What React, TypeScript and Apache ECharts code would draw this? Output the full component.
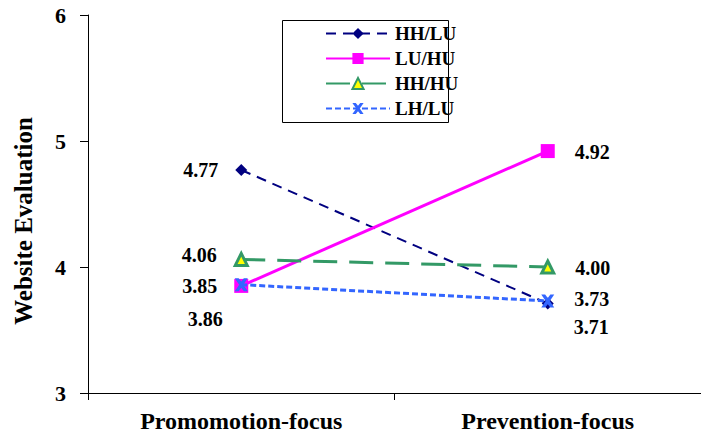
import React, { useEffect, useRef } from "react";
import * as echarts from "echarts";

const categories = ["Promomotion-focus", "Prevention-focus"];
const seriesNames = ["HH/LU", "LU/HU", "HH/HU", "LH/LU"];
const hhLu = [4.77, 3.71];
const luHu = [3.85, 4.92];
const hhHu = [4.06, 4.0];
const lhLu = [3.86, 3.73];
const yTicks = [3, 4, 5, 6];

const serif = '"Times New Roman", "Liberation Serif", "DejaVu Serif", serif';
const crossSymbol =
  "path://M0,0 L3,0 L5,2.6 L7,0 L10,0 L6.6,5 L10,10 L7,10 L5,7.4 L3,10 L0,10 L3.4,5 Z";

// per-point label placement: [position, offsetX, offsetY]
type Place = [string, number, number];
const labelPlaces: Place[][] = [
  [["left", 0, 0], ["right", 0, 23]],
  [["left", 0, 0], ["right", 0, 1]],
  [["left", 0, -4], ["right", 0, 1]],
  [["left", 5, 34], ["right", 0, -2]],
];

function withLabels(values: number[], idx: number) {
  return values.map((v, i) => {
    const [position, ox, oy] = labelPlaces[idx][i];
    return {
      value: v,
      label: {
        show: true,
        position,
        distance: position === "left" ? 17 : 20,
        offset: [ox, oy],
        formatter: (p: any) => Number(p.value).toFixed(2),
        fontFamily: serif,
        fontWeight: "bold",
        fontSize: 20,
        color: "#000",
      },
    };
  });
}

export default function App() {
  const ref = useRef<HTMLDivElement>(null);
  useEffect(() => {
    document.body.style.margin = "0";
    const chart = echarts.init(ref.current!, null, { renderer: "svg" });
    chart.setOption({
      animation: false,
      backgroundColor: "#fff",
      textStyle: { fontFamily: serif },
      grid: { left: 88, right: -7, top: 15, bottom: 44 },
      graphic: [
        {
          type: "rect",
          shape: { x: 282.5, y: 20.5, width: 166, height: 102 },
          style: { fill: "#fff", stroke: "#000", lineWidth: 1 },
          z: 0,
        },
      ],
      legend: {
        orient: "vertical",
        left: 325,
        top: 24,
        padding: 0,
        itemWidth: 64,
        itemHeight: 14,
        itemGap: 6,
        data: seriesNames,
        textStyle: {
          fontFamily: serif,
          fontWeight: "bold",
          fontSize: 19,
          color: "#000",
        },
        z: 5,
      },
      xAxis: {
        type: "category",
        data: categories,
        boundaryGap: true,
        axisLine: { lineStyle: { color: "#000", width: 1 } },
        axisTick: { show: true, length: 7, lineStyle: { color: "#000" } },
        axisLabel: {
          margin: 16,
          fontFamily: serif,
          fontWeight: "bold",
          fontSize: 24,
          color: "#000",
        },
      },
      yAxis: {
        type: "value",
        min: yTicks[0],
        max: yTicks[yTicks.length - 1],
        interval: 1,
        name: "Website Evaluation",
        nameLocation: "middle",
        nameGap: 52,
        nameTextStyle: {
          fontFamily: serif,
          fontWeight: "bold",
          fontSize: 25,
          color: "#000",
          padding: [0, 34, 0, 0],
        },
        splitLine: { show: false },
        axisLine: { show: true, lineStyle: { color: "#000", width: 1 } },
        axisTick: { show: true, length: 8, lineStyle: { color: "#000" } },
        axisLabel: {
          margin: 22,
          fontFamily: serif,
          fontWeight: "bold",
          fontSize: 22,
          color: "#000",
        },
      },
      series: [
        {
          name: seriesNames[0],
          type: "line",
          data: withLabels(hhLu, 0),
          symbol: "diamond",
          symbolSize: 12,
          itemStyle: { color: "#000080" },
          lineStyle: { color: "#000080", width: 2, type: [10, 7] },
          z: 2,
        },
        {
          name: seriesNames[1],
          type: "line",
          data: withLabels(luHu, 1),
          symbol: "rect",
          symbolSize: 14,
          itemStyle: { color: "#FF00FF" },
          lineStyle: { color: "#FF00FF", width: 3, type: "solid" },
          z: 3,
        },
        {
          name: seriesNames[2],
          type: "line",
          data: withLabels(hhHu, 2),
          symbol: "triangle",
          symbolSize: 12,
          itemStyle: { color: "#FFFF00", borderColor: "#339966", borderWidth: 3 },
          lineStyle: { color: "#339966", width: 3, type: [24, 12] },
          z: 4,
        },
        {
          name: seriesNames[3],
          type: "line",
          data: withLabels(lhLu, 3),
          symbol: crossSymbol,
          symbolSize: 13,
          itemStyle: { color: "#3366FF" },
          lineStyle: { color: "#3366FF", width: 3, type: [6, 3] },
          z: 5,
        },
      ],
    });
    return () => chart.dispose();
  }, []);
  return <div ref={ref} style={{ width: 701, height: 437 }} />;
}
